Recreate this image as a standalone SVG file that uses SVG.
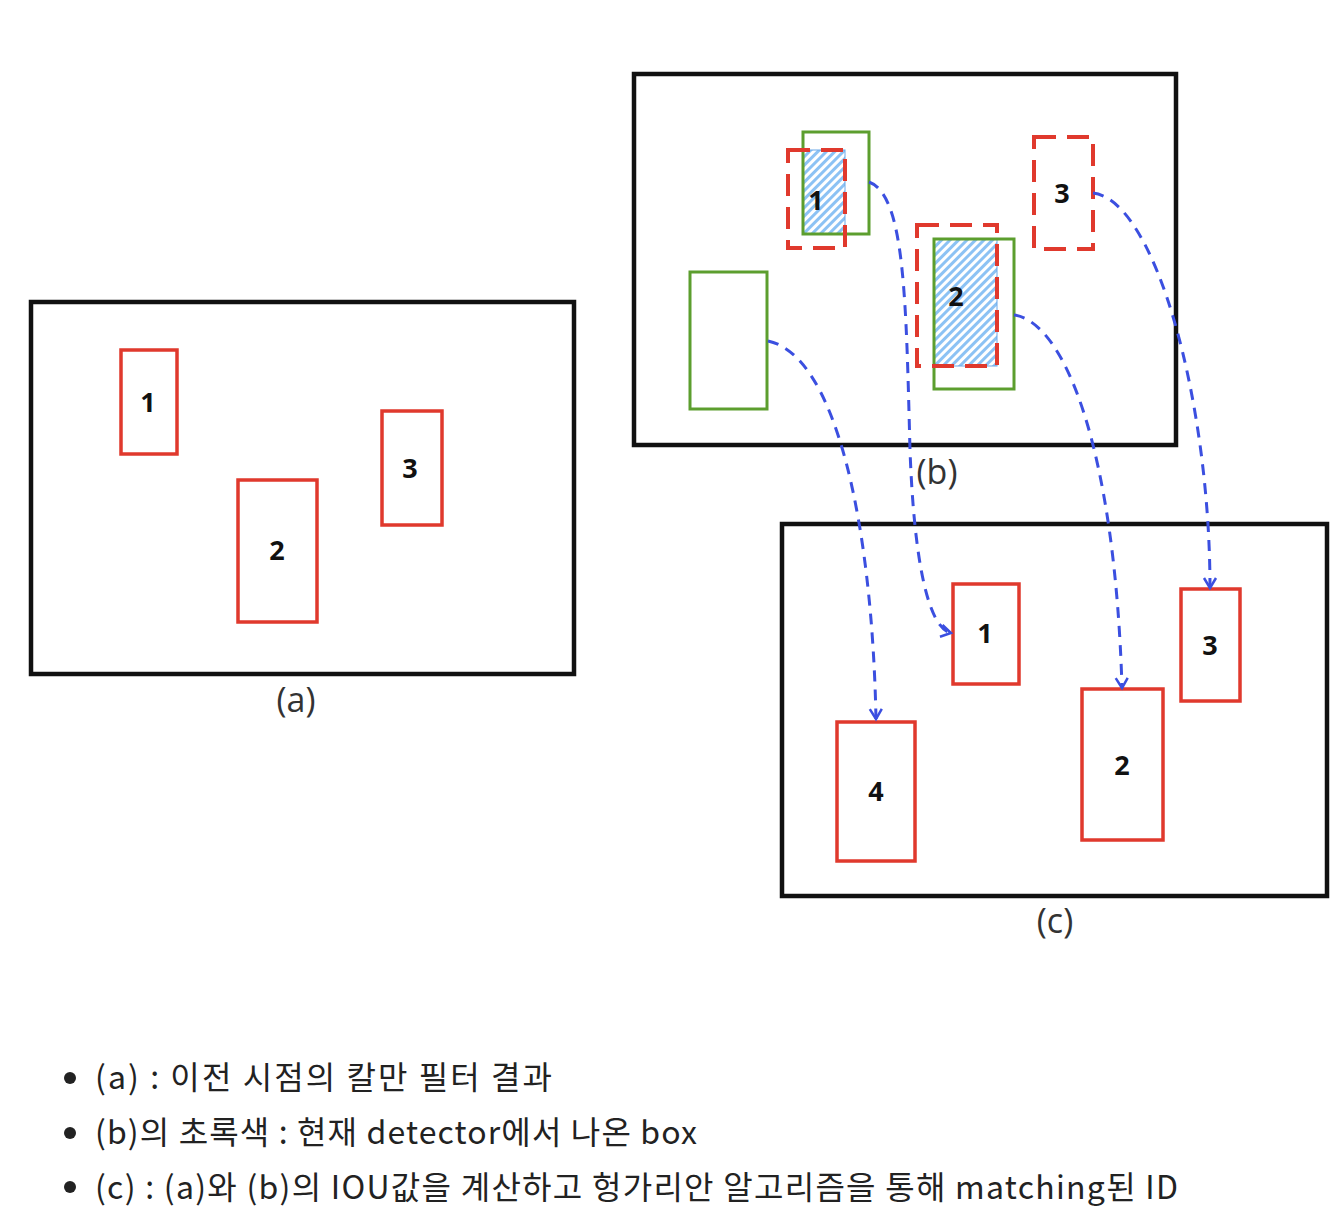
<svg xmlns="http://www.w3.org/2000/svg" width="1340" height="1217" viewBox="0 0 1340 1217">
<style>
.frame{fill:none;stroke:#111;stroke-width:4.5}
.red{fill:none;stroke:#e0392d;stroke-width:3.5}
.redd{fill:none;stroke:#e0392d;stroke-width:4;stroke-dasharray:22 11}
.green{fill:none;stroke:#5c9e2e;stroke-width:3}
.hatch{fill:url(#hp);stroke:#6aa8e8;stroke-width:1}
.num{font-family:"Open Sans","DejaVu Sans",sans-serif;font-weight:700;font-size:27px;fill:#111;text-anchor:middle}
.cap{font-family:"Open Sans","DejaVu Sans",sans-serif;font-size:34px;fill:#333;text-anchor:middle}
.conn{fill:none;stroke:#3b4fe0;stroke-width:3;stroke-dasharray:11 8}
.leg{font-family:"Noto Sans CJK KR","Noto Sans",sans-serif;font-size:32px;fill:#222}
</style>
<defs>
<pattern id="hp" width="6" height="6" patternUnits="userSpaceOnUse" patternTransform="rotate(45)">
<rect width="6" height="6" fill="#ffffff"/>
<rect width="3" height="6" fill="#8cc2f4"/>
</pattern>
<marker id="arr" markerWidth="16" markerHeight="16" refX="13" refY="8" orient="auto" markerUnits="userSpaceOnUse">
<polyline points="3,2 13,8 3,14" fill="none" stroke="#3b4fe0" stroke-width="2.5"/>
</marker>
</defs>
<rect width="1340" height="1217" fill="#fff"/>

<g id="panel-a">
<rect class="frame" x="31" y="302" width="543" height="372"/>
<text class="cap" x="296" y="712">(a)</text>
</g>
<g id="a1"><rect class="red" x="121" y="350" width="56" height="104"/><text class="num" x="148" y="412">1</text></g>
<g id="a2"><rect class="red" x="238" y="480" width="79" height="142"/><text class="num" x="277" y="560">2</text></g>
<g id="a3"><rect class="red" x="382" y="411" width="60" height="114"/><text class="num" x="410" y="478">3</text></g>

<g id="panel-b">
<rect class="frame" x="634" y="74" width="542" height="371"/>
<text class="cap" x="937" y="484">(b)</text>
</g>
<g id="b1">
<rect class="hatch" x="803" y="150" width="42" height="84"/>
<rect class="green" x="803" y="132" width="66" height="102"/>
<rect class="redd" x="788" y="150" width="57" height="98"/>
<text class="num" x="816" y="210">1</text>
</g>
<g id="b2">
<rect class="hatch" x="934" y="239" width="63" height="127"/>
<rect class="green" x="934" y="239" width="80" height="150"/>
<rect class="redd" x="917" y="225" width="80" height="141"/>
<text class="num" x="956" y="306">2</text>
</g>
<g id="b3">
<rect class="redd" x="1034" y="137" width="59" height="112"/>
<text class="num" x="1062" y="203">3</text>
</g>
<g id="b4">
<rect class="green" x="690" y="272" width="77" height="137"/>
</g>

<g id="panel-c">
<rect class="frame" x="782" y="524" width="545" height="372"/>
<text class="cap" x="1055" y="933">(c)</text>
</g>
<g id="c1"><rect class="red" x="953" y="584" width="66" height="100"/><text class="num" x="985" y="643">1</text></g>
<g id="c2"><rect class="red" x="1082" y="689" width="81" height="151"/><text class="num" x="1122" y="775">2</text></g>
<g id="c3"><rect class="red" x="1181" y="589" width="59" height="112"/><text class="num" x="1210" y="655">3</text></g>
<g id="c4"><rect class="red" x="837" y="722" width="78" height="139"/><text class="num" x="876" y="801">4</text></g>

<g id="connectors">
<path class="conn" d="M768,341 C835,355 872,520 876,719" marker-end="url(#arr)"/>
<path class="conn" d="M869,182 C905,195 906,300 910,450 C914,560 928,628 951,633" marker-end="url(#arr)"/>
<path class="conn" d="M1014,315 C1065,322 1115,450 1122,688" marker-end="url(#arr)"/>
<path class="conn" d="M1093,193 C1155,200 1210,400 1210,588" marker-end="url(#arr)"/>
</g>

<g id="legend">
<circle cx="70" cy="1078" r="6" fill="#222"/>
<text class="leg" x="95" y="1089" textLength="457" lengthAdjust="spacing">(a) : 이전 시점의 칼만 필터 결과</text>
<circle cx="70" cy="1133" r="6" fill="#222"/>
<text class="leg" x="95" y="1144" textLength="602" lengthAdjust="spacing">(b)의 초록색 : 현재 detector에서 나온 box</text>
<circle cx="70" cy="1187" r="6" fill="#222"/>
<text class="leg" x="95" y="1199" textLength="1083" lengthAdjust="spacing">(c) : (a)와 (b)의 IOU값을 계산하고 헝가리안 알고리즘을 통해 matching된 ID</text>
</g>
</svg>
